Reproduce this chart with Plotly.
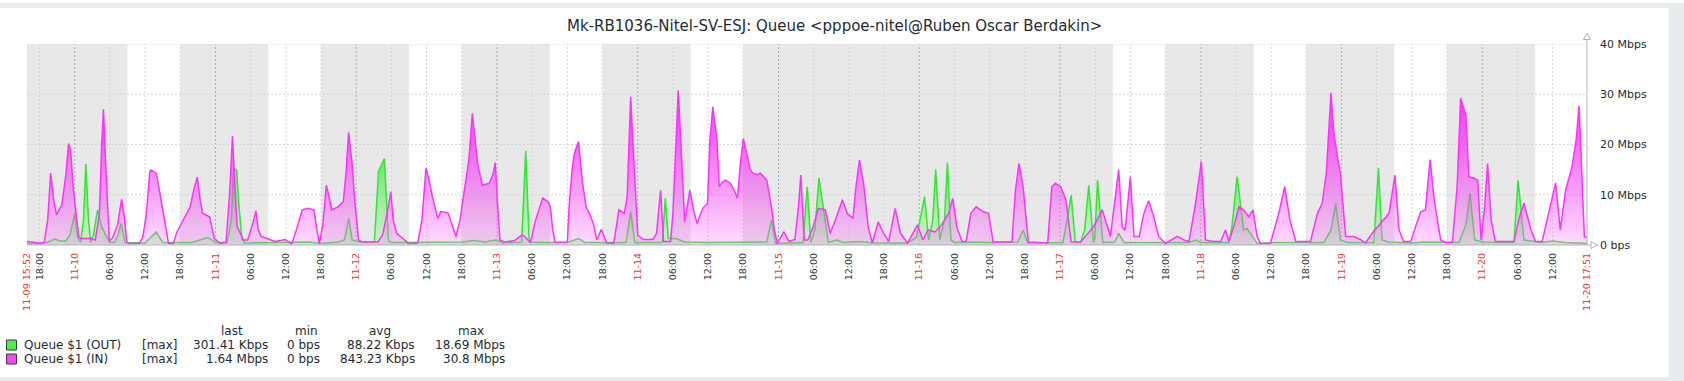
import pandas as pd
import plotly.graph_objects as go

# ---------------- data ----------------
BASE = "2025-11-10 00:00"          # hours below are offsets from this instant
START = "2025-11-09 15:52"
END = "2025-11-20 17:51"

in_hours = [-8.13, -7, -6, -5.2, -4.6, -4.1, -3.6, -3.1, -2.2, -1.5, -1.05, -0.7, -0.3, 0.1, 0.7, 1, 2.8, 3.5,
            4.2, 4.6, 4.9, 5.2, 5.9, 6.5, 7.3, 8.0, 8.4, 8.9, 9.3, 11, 11.6, 12.2, 12.8, 13.0, 13.9, 14.5, 15.3,
            15.6, 16, 16.8, 17.4, 18.5, 19.7, 20.3, 20.9, 21.4, 21.8, 23, 23.8, 24.9, 25.8, 26.4, 26.9, 27.3,
            27.7, 28.8, 29.5, 30.3, 30.9, 31.3, 31.8, 32.8, 34.1, 35.9, 37, 37.8, 38.8, 39.7, 40.8, 41.3, 41.7,
            42.3, 42.9, 43.3, 43.8, 44.9, 45.8, 46.3, 46.7, 47.3, 47.8, 48.4, 49, 51.7, 52.5, 53.2, 53.9, 54.3,
            54.9, 56, 56.9, 58.5, 59.2, 59.9, 60.4, 61, 61.9, 62.4, 62.8, 63.7, 64.3, 65, 65.7, 66.3, 67.2, 67.8,
            68.2, 68.7, 69.5, 70.7, 71.3, 71.7, 72.1, 72.5, 73.3, 75, 76.3, 76.9, 77.7, 78.6, 79.8, 80.7, 81.1,
            81.5, 81.9, 84, 84.3, 84.8, 85.2, 85.9, 86.6, 87.2, 88, 88.5, 89, 89.8, 90.7, 91.9, 92.4, 92.8, 93.7,
            94.2, 94.5, 94.8, 95.1, 95.4, 96, 96.9, 98.6, 99.2, 99.9, 100.4, 101.6, 102, 102.5, 102.9, 103.2,
            103.6, 104, 104.9, 105.4, 106.1, 107.1, 107.9, 108.3, 108.8, 109.1, 109.5, 109.9, 110.4, 110.9,
            111.8, 112.4, 113, 113.5, 114, 114.7, 115.2, 115.6, 116.3, 116.9, 118, 118.8, 119.3, 119.8, 120.9,
            121.8, 122.8, 123.4, 123.8, 124.4, 125, 125.9, 126.8, 128, 128.8, 129.7, 130.9, 131.7, 132.7, 133.2,
            133.8, 134.5, 135.3, 136, 137, 137.9, 138.8, 139.9, 140.8, 142, 143.7, 144.6, 145.5, 146.7, 147.8,
            149, 149.7, 150.4, 151.3, 152, 152.8, 153.7, 154.9, 155.8, 156.6, 159.8, 160.4, 161, 161.7, 162.6,
            165.9, 166.6, 167.2, 168.1, 169, 169.9, 171.5, 173.7, 175.2, 176.6, 177.4, 178, 178.6, 179.1, 180,
            180.6, 181.5, 182.3, 183.1, 184, 184.8, 186, 188, 189.1, 190, 191.1, 192.1, 192.8, 194.2, 195.4,
            196.2, 196.8, 197.6, 198.5, 199.3, 200.2, 200.9, 201.6, 202.2, 203.9, 205.3, 206.3, 207.2, 208.2,
            210.7, 211.9, 212.7, 213.4, 214.2, 214.7, 215.3, 215.8, 216.7, 218.1, 219.2, 220.1, 221.2, 222.7,
            224.1, 225.1, 225.8, 226.6, 227.8, 228.6, 229.5, 230.3, 231.1, 231.8, 232.9, 233.8, 234.9, 235.7,
            236.3, 237.2, 237.7, 238.6, 239.2, 239.8, 240.4, 240.9, 241.5, 242.2, 245.4, 246.2, 247.1, 248.3,
            249.1, 250.2, 251.3, 252.5, 253.3, 254.2, 255.3, 256, 256.5, 257, 257.4, 257.85]
in_mbps = [0.7, 0.5, 0.4, 0.5, 5, 14.3, 9, 6, 8, 14, 20.2, 19, 12, 7.6, 1.7, 1.3, 1.3, 1,
           6, 20, 27, 18, 0.8, 1.5, 4, 9.1, 6, 0.5, 0.3, 0.3, 1.5, 6, 14.5, 14.9, 14.3, 10.5, 5.6,
           3, 0.3, 0.3, 2.5, 5, 7.6, 11, 13.5, 9, 6.3, 5.6, 1.3, 0.3, 0.5, 10, 21.7, 12,
           3.6, 1, 1, 4, 6.8, 3, 1.7, 1.3, 0.7, 1.1, 0.2, 3, 7, 7.3, 7, 3, 0.2,
           4, 11.9, 10, 7, 7.6, 8.6, 15, 22.4, 16.2, 8, 1, 0.6, 0.6, 2, 6, 10.6, 5,
           2.3, 1.3, 0.3, 0.4, 5, 15.3, 13, 9.6, 5.3, 6.6, 6.6, 6.3, 4, 1.7, 5, 9.6, 16.9, 26.2,
           22, 16.2, 11.9, 12.3, 14, 16.4, 8, 1, 0.6, 0.9, 2, 1.5, 0.5, 5, 9.3, 8.6, 7.6,
           3, 0.5, 0.6, 7.6, 15, 18.2, 20.6, 12.3, 7.6, 5.6, 4, 1, 3.1, 0.4, 0.3, 4, 7, 6.3,
           9.6, 20, 29.5, 22, 14.3, 2, 1.1, 1.1, 2.3, 10.9, 0.7, 0.7, 6.3, 20, 30.8, 24,
           14.3, 4.6, 10.9, 7.6, 4.3, 7.3, 8.3, 20.9, 27.5, 25, 20.9, 11.6, 12.5, 12.9,
           12.3, 11, 9.3, 16.2, 21.2, 17.6, 15, 14.3, 14, 14.3, 12.9, 7.6, 3, 0.3, 2.6,
           0.7, 1.1, 7.6, 13.9, 1, 1, 3.6, 7.3, 7, 2.3, 5, 9, 6.3, 5.3, 11.6,
           16.9, 12.3, 3.6, 0.4, 4.6, 2.3, 0.7, 7.3, 2.3, 0.4, 4, 1, 3, 2.6, 4,
           6.3, 9.3, 3.6, 0.7, 0.7, 6.3, 7.6, 6.6, 6.3, 0.6, 0.6, 10.9, 16.2, 11.6, 0.6,
           0.4, 11.6, 12.3, 11.6, 9, 0.6, 0.6, 3.6, 7, 1.7, 9.6, 15, 3.6, 3, 13.6,
           1.7, 1.7, 6.3, 8.8, 5.6, 1.7, 0.3, 1.7, 1, 0.7, 8.3, 16.6, 1, 0.7, 0.7,
           3, 0.7, 3.6, 7.6, 7, 5.6, 7, 1.7, 0.3, 0.4, 6.3, 11.6, 5, 0.7,
           0.7, 6.3, 8.3, 14.3, 30.3, 22.2, 17.6, 14.3, 1.7, 1.7, 1.1, 0.4, 2.3, 4.3,
           6.3, 13.9, 3, 0.7, 0.7, 3.6, 6.6, 7, 17, 9, 1, 0.5, 0.5, 11.6,
           29.2, 25.9, 13.6, 13.3, 12.9, 1, 7.6, 16.2, 5, 0.7, 0.7, 5, 8.3, 3,
           0.7, 0.7, 6.3, 12.3, 3, 10.9, 15.6, 20.9, 27.7, 12.9, 1.6, 1.64]

out_hours = [-8.13, -6, -4.5, -3.4, -2.5, -1.5, -0.8, 0, 0.5, 1.0, 1.5, 1.9, 2.3, 2.7, 3.2, 3.9, 4.6, 5.9,
             6.8, 7.4, 7.9, 8.6, 12, 13.9, 15, 20, 22.7, 24, 26.0, 26.7, 27.1, 27.6, 28, 28.5, 29, 40, 42,
             45, 46, 46.7, 47.3, 48.5, 51.1, 51.8, 52.8, 53.5, 54, 60, 66, 68, 70, 71.7, 73, 76.2, 76.9,
             77.5, 80, 84, 85.9, 87, 94, 94.8, 95.5, 100.2, 100.7, 101.2, 102.5, 104, 108, 118, 118.8,
             119.5, 124.2, 124.9, 125.5, 126.2, 126.9, 127.7, 128.5, 130, 131, 134, 136, 142, 143.5, 144.3,
             144.9, 145.6, 146.3, 146.8, 147.5, 148.3, 148.8, 149.4, 150, 153, 156, 160.8, 161.7, 162.5,
             168.5, 169.2, 169.9, 170.6, 171.5, 172.2, 172.9, 173.7, 173.9, 174.4, 174.9, 175.3, 177.3, 178,
             178.9, 190, 191.1, 192, 196.8, 197.3, 198.2, 198.8, 199.3, 199.9, 200.8, 201.6, 205, 213,
             214.2, 215, 215.8, 217, 221.5, 222.3, 222.9, 224, 228, 230, 236, 237.2, 237.9, 238.7, 240,
             245.4, 246.1, 247.1, 250, 252, 254, 257.85]
out_mbps = [0.3, 0.3, 0.6, 1.2, 0.8, 0.8, 2, 6.3, 1.5, 0.5, 5, 16.1, 6, 0.5, 2, 7, 3.6, 0.6,
            0.5, 2, 4.3, 0.5, 0.4, 2.6, 0.5, 0.5, 1.5, 0.5, 0.5, 5, 15.3, 15, 8, 1.2, 0.4, 0.6, 0.3,
            0.6, 1, 5.3, 1, 0.6, 0.6, 14.6, 17.2, 0.8, 0.5, 0.5, 0.6, 0.9, 0.6, 1, 0.4, 0.6, 18.69,
            0.6, 0.5, 0.5, 1.3, 0.5, 0.5, 6.6, 0.5, 0.5, 9.3, 1.3, 1.3, 0.6, 0.5, 0.6, 5,
            0.3, 0.5, 11.6, 0.5, 3, 13.3, 7, 0.5, 1, 0.5, 0.7, 0.4, 0.4, 1.5, 6,
            9.6, 1, 5, 15, 1, 5, 16.4, 1, 0.5, 0.6, 0.5, 0.6, 3, 0.4,
            0.5, 5, 9.9, 0.6, 0.5, 3, 11.9, 0.5, 1, 12.9, 5, 0.5, 0.6, 2.3,
            0.5, 0.5, 1, 0.5, 0.5, 3.6, 13.6, 7.6, 3, 3.3, 1.6, 0.3, 0.5, 0.5,
            3, 8.3, 1, 0.5, 0.5, 15.3, 1, 0.6, 0.4, 0.6, 0.5, 4, 10.3, 1, 0.6,
            0.5, 12.9, 1, 0.5, 0.8, 0.5, 0.3]

y_tick_values = [0, 10, 20, 30, 40]
y_tick_labels = ["0 bps", "10 Mbps", "20 Mbps", "30 Mbps", "40 Mbps"]

title_text = "Mk-RB1036-Nitel-SV-ESJ: Queue &lt;pppoe-nitel@Ruben Oscar Berdakin&gt;"
legend_names = ["Queue $1 (OUT)", "Queue $1 (IN)"]
legend_func = ["[max]", "[max]"]
legend_last = ["301.41 Kbps", "1.64 Mbps"]
legend_min = ["0 bps", "0 bps"]
legend_avg = ["88.22 Kbps", "843.23 Kbps"]
legend_max = ["18.69 Mbps", "30.8 Mbps"]
legend_headers = ["last", "min", "avg", "max"]

# ---------------- styling / geometry ----------------
FIG_W, FIG_H = 1684, 381
ML, MR, MT, MB = 27, 97, 44, 136
PW, PH = FIG_W - ML - MR, FIG_H - MT - MB
FONT = "DejaVu Sans"
TXT = "#1f2c33"
RED = "#e53935"
GRID = "#cfd6da"
GRID_DARK = "#a3adb3"
AXIS = "#aab5bb"
NIGHT = "#e8e8e8"
OUT_LINE = "#33e633"
IN_LINE = "#ff33ff"


def px2x(px):
    return (px - ML) / PW


def py2y(py):
    return (FIG_H - MB - py) / PH


base = pd.Timestamp(BASE)
t0, t1 = pd.Timestamp(START), pd.Timestamp(END)
in_x = base + pd.to_timedelta(in_hours, unit="h")
out_x = base + pd.to_timedelta(out_hours, unit="h")

fig = go.Figure()
fig.add_trace(go.Scatter(
    x=out_x, y=out_mbps, mode="lines", line=dict(color=OUT_LINE, width=1.5),
    fill="tozeroy",
    fillgradient=dict(type="vertical", colorscale=[[0, "rgba(170,250,170,0.45)"], [0.4, "rgba(120,240,120,0.60)"],
                                                   [1, "rgba(60,235,60,0.85)"]]),
    hoverinfo="skip", showlegend=False))
fig.add_trace(go.Scatter(
    x=in_x, y=in_mbps, mode="lines", line=dict(color=IN_LINE, width=1.5),
    fill="tozeroy",
    fillgradient=dict(type="vertical", colorscale=[[0, "rgba(255,120,255,0.28)"], [0.3, "rgba(240,80,240,0.50)"],
                                                   [0.65, "rgba(245,50,245,0.72)"], [1, "rgba(255,30,255,0.90)"]]),
    hoverinfo="skip", showlegend=False))

shapes = []
# page frame (grey bands around the white panel)
shapes.append(dict(type="rect", xref="paper", yref="paper", x0=px2x(0), x1=px2x(FIG_W), y0=py2y(8), y1=py2y(3),
                   fillcolor="#e9ecef", line=dict(width=0), layer="below"))
shapes.append(dict(type="rect", xref="paper", yref="paper", x0=px2x(1669), x1=px2x(FIG_W), y0=py2y(FIG_H), y1=py2y(3),
                   fillcolor="#e9ecef", line=dict(width=0), layer="below"))
shapes.append(dict(type="rect", xref="paper", yref="paper", x0=px2x(0), x1=px2x(FIG_W), y0=py2y(FIG_H), y1=py2y(377),
                   fillcolor="#e9ecef", line=dict(width=0), layer="below"))

# non-working time shading (work period Mon-Fri 09:00-18:00)
day = t0.normalize()
while day <= t1:
    if day.weekday() < 5:
        segs = [(day, day + pd.Timedelta(hours=9)), (day + pd.Timedelta(hours=18), day + pd.Timedelta(hours=24))]
    else:
        segs = [(day, day + pd.Timedelta(hours=24))]
    for a, b in segs:
        a, b = max(a, t0), min(b, t1)
        if a < b:
            shapes.append(dict(type="rect", xref="x", yref="paper", x0=a, x1=b, y0=0, y1=1,
                               fillcolor=NIGHT, line=dict(width=0), layer="below"))
    day += pd.Timedelta(days=1)

# grid
tick_times = [t0] + list(pd.date_range("2025-11-09 18:00", "2025-11-20 12:00", freq="6h")) + [t1]
for t in tick_times[:-1]:
    dark = (t.hour == 0 and t.minute == 0)
    shapes.append(dict(type="line", xref="x", yref="paper", x0=t, x1=t, y0=0, y1=1,
                       line=dict(color=GRID_DARK if dark else GRID, width=1, dash="2px,2px"), layer="below"))
for v in y_tick_values[1:]:
    shapes.append(dict(type="line", xref="paper", yref="y", x0=0, x1=1, y0=v, y1=v,
                       line=dict(color=GRID, width=1, dash="2px,2px"), layer="below"))

# axes lines and arrows
shapes.append(dict(type="line", xref="paper", yref="paper", x0=0, x1=px2x(1591), y0=0, y1=0,
                   line=dict(color=AXIS, width=1)))
shapes.append(dict(type="line", xref="paper", yref="paper", x0=1, x1=1, y0=0, y1=py2y(39),
                   line=dict(color=AXIS, width=1)))
up = "M {},{} L {},{} L {},{} Z".format(px2x(1587), py2y(33), px2x(1590.5), py2y(39.5), px2x(1583.5), py2y(39.5))
shapes.append(dict(type="path", xref="paper", yref="paper", path=up, fillcolor="white", line=dict(color=AXIS, width=1)))
rt = "M {},{} L {},{} L {},{} Z".format(px2x(1597.5), py2y(245), px2x(1591), py2y(241.5), px2x(1591), py2y(248.5))
shapes.append(dict(type="path", xref="paper", yref="paper", path=rt, fillcolor="white", line=dict(color=AXIS, width=1)))

# legend squares
sq_colors = ["#4cf04c", "#f04cf0"]
for i, c in enumerate(sq_colors):
    yc = 345 + 14 * i
    shapes.append(dict(type="rect", xref="paper", yref="paper", x0=px2x(6.5), x1=px2x(16.5),
                       y0=py2y(yc + 5), y1=py2y(yc - 5), fillcolor=c, line=dict(color="#3b3b3b", width=1)))

# tick labels
ticktext = []
for t in tick_times:
    if t == t0 or t == t1:
        ticktext.append('<span style="color:%s">%s</span>' % (RED, t.strftime("%m-%d %H:%M")))
    elif t.hour == 0 and t.minute == 0:
        ticktext.append('<span style="color:%s">%s</span>' % (RED, t.strftime("%m-%d")))
    else:
        ticktext.append(t.strftime("%H:%M"))

annotations = []
annotations.append(dict(text=title_text, x=px2x(834), y=py2y(26), xref="paper", yref="paper",
                        xanchor="center", yanchor="middle", showarrow=False,
                        font=dict(family=FONT, size=15, color=TXT)))
lf = dict(family=FONT, size=12, color=TXT)
for hdr, cx in zip(legend_headers, [232, 306, 380, 471]):
    annotations.append(dict(text=hdr, x=px2x(cx), y=py2y(331), xref="paper", yref="paper",
                            xanchor="center", yanchor="middle", showarrow=False, font=lf))
for i in range(2):
    yc = py2y(345 + 14 * i)
    annotations.append(dict(text=legend_names[i], x=px2x(22), y=yc, xref="paper", yref="paper",
                            xanchor="left", yanchor="middle", showarrow=False, font=lf))
    annotations.append(dict(text=legend_func[i], x=px2x(140), y=yc, xref="paper", yref="paper",
                            xanchor="left", yanchor="middle", showarrow=False, font=lf))
    for val, rx in zip([legend_last[i], legend_min[i], legend_avg[i], legend_max[i]], [270, 322, 417, 507]):
        annotations.append(dict(text=val, x=px2x(rx), y=yc, xref="paper", yref="paper",
                                xanchor="right", yanchor="middle", showarrow=False, font=lf))

fig.update_layout(
    width=FIG_W, height=FIG_H,
    margin=dict(l=ML, r=MR, t=MT, b=MB, pad=0, autoexpand=False),
    paper_bgcolor="white", plot_bgcolor="white",
    shapes=shapes, annotations=annotations,
    xaxis=dict(type="date", range=[t0, t1], showgrid=False, zeroline=False, showline=False, automargin=False,
               tickmode="array", tickvals=tick_times, ticktext=ticktext, tickangle=-90,
               ticks="", ticklabelstandoff=5, tickfont=dict(family=FONT, size=9.5, color="#333333")),
    yaxis=dict(range=[0, 40], side="right", showgrid=False, zeroline=False, showline=False, automargin=False,
               tickmode="array", tickvals=y_tick_values, ticktext=y_tick_labels,
               ticks="", ticklabelstandoff=12, tickfont=dict(family=FONT, size=11, color=TXT)),
    showlegend=False,
)

fig.write_html("out.html", config={"displayModeBar": False},
               post_script="document.body.style.margin='0px';document.body.style.overflow='hidden';")
